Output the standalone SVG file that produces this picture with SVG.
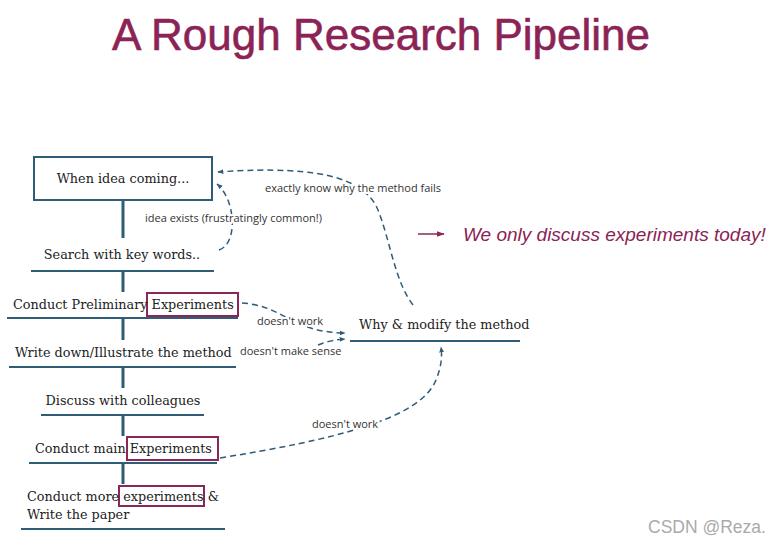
<svg xmlns="http://www.w3.org/2000/svg" width="781" height="546" viewBox="0 0 781 546">
<defs>
<marker id="ah" viewBox="0 0 10 10" refX="9" refY="5" markerWidth="6" markerHeight="6" orient="auto" markerUnits="userSpaceOnUse">
<path d="M0,1 L10,5 L0,9 Z" fill="#2f5d78"/>
</marker>
<marker id="ahm" viewBox="0 0 10 10" refX="9" refY="5" markerWidth="8" markerHeight="8" orient="auto" markerUnits="userSpaceOnUse">
<path d="M0,1.5 L10,5 L0,8.5 Z" fill="#8b2758"/>
</marker>
<style>
.t{font-family:"DejaVu Serif","Liberation Serif",serif;font-size:12.8px;fill:#222;text-anchor:middle}
.tl{font-family:"DejaVu Serif","Liberation Serif",serif;font-size:12.8px;fill:#222}
.ul{stroke:#2f5d78;stroke-width:2;fill:none}
.st{stroke:#2f5d78;stroke-width:3;fill:none}
.hl{stroke:#8b2758;stroke-width:2;fill:none}
.dash{stroke:#2f5d78;stroke-width:1.5;fill:none;stroke-dasharray:6 4;marker-end:url(#ah)}
.lb{font-family:"Open Sans","Liberation Sans",sans-serif;font-size:11px;fill:#333;paint-order:stroke;stroke:#fff;stroke-width:4px;stroke-linejoin:round}
</style>
</defs>
<rect width="781" height="546" fill="#fff"/>
<text x="381" y="50" font-family="Liberation Sans, Arial, sans-serif" font-size="44" fill="#8b2356" stroke="#8b2356" stroke-width="0.6" text-anchor="middle">A Rough Research Pipeline</text>

<g id="stems">
<line class="st" x1="123" y1="200" x2="123" y2="238"/>
<line class="st" x1="123" y1="271" x2="123" y2="292"/>
<line class="st" x1="123" y1="318" x2="123" y2="340"/>
<line class="st" x1="123" y1="367" x2="123" y2="388"/>
<line class="st" x1="123" y1="415" x2="123" y2="436"/>
<line class="st" x1="123" y1="463" x2="123" y2="484"/>
</g>

<g id="n-idea">
<rect x="34" y="157" width="178" height="43" fill="#fff" stroke="#2f5d78" stroke-width="2"/>
<text class="t" x="123" y="183">When idea coming...</text>
</g>
<g id="n-search">
<text class="t" x="122" y="259">Search with key words..</text>
<line class="ul" x1="31" y1="271" x2="214" y2="271"/>
</g>
<g id="n-prelim">
<rect class="hl" x="147" y="293" width="91" height="23"/>
<text class="tl" x="13" y="309">Conduct Preliminary Experiments</text>
<line class="ul" x1="7" y1="318" x2="238" y2="318"/>
</g>
<g id="n-write">
<text class="tl" x="15" y="357">Write down/Illustrate the method</text>
<line class="ul" x1="9" y1="367" x2="236" y2="367"/>
</g>
<g id="n-discuss">
<text class="t" x="123" y="405">Discuss with colleagues</text>
<line class="ul" x1="41" y1="415" x2="204" y2="415"/>
</g>
<g id="n-main">
<rect class="hl" x="127" y="437" width="91" height="23"/>
<text class="tl" x="35" y="453">Conduct main Experiments</text>
<line class="ul" x1="29" y1="463" x2="217" y2="463"/>
</g>
<g id="n-more">
<rect class="hl" x="119" y="486" width="85" height="20"/>
<text class="tl" x="27" y="501">Conduct more experiments &amp;</text>
<text class="tl" x="27" y="519">Write the paper</text>
<line class="ul" x1="21" y1="529" x2="225" y2="529"/>
</g>
<g id="n-why">
<text class="tl" x="359" y="329">Why &amp; modify the method</text>
<line class="ul" x1="350" y1="341" x2="520" y2="341"/>
</g>

<g id="connectors">
<path class="dash" d="M219,250 C238,244 236,200 217,184"/>
<path class="dash" d="M413,305 C395,282 390,240 378,210 C366,182 330,164 218,172"/>
<path class="dash" d="M242,303 C285,306 290,332 345,333"/>
<path class="dash" d="M318,345 Q330,340 345,339"/>
<path class="dash" d="M220,458 C330,440 420,420 436,380 C442,365 442,356 441,347"/>
<text class="lb" x="145" y="222">idea exists (frustratingly common!)</text>
<text class="lb" x="265" y="192">exactly know why the method fails</text>
<text class="lb" x="257" y="325">doesn't work</text>
<text class="lb" x="240" y="355">doesn't make sense</text>
<text class="lb" x="312" y="428">doesn't work</text>
</g>

<g id="note">
<line x1="418" y1="234" x2="444" y2="234" stroke="#8b2758" stroke-width="1.5" marker-end="url(#ahm)"/>
<text x="463" y="241" font-family="Liberation Sans, Arial, sans-serif" font-style="italic" font-size="19" fill="#8b2356">We only discuss experiments today!</text>
</g>
<text x="648" y="533" font-family="Liberation Sans, Arial, sans-serif" font-size="17.5" fill="#aaa">CSDN @Reza.</text>
</svg>
